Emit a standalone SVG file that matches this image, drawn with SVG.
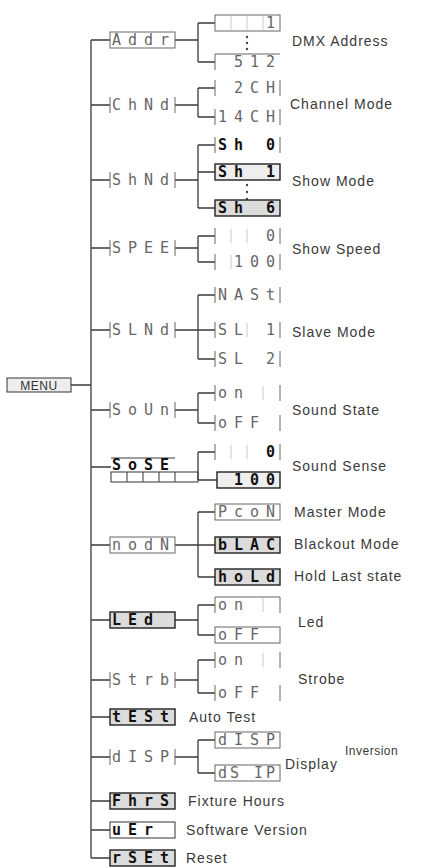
<svg xmlns="http://www.w3.org/2000/svg" width="429" height="868" viewBox="0 0 429 868">
<style>
.bg{fill:#fff}
.ln{fill:none;stroke:#3a3a3a;stroke-width:1.3}
.box{fill:none;stroke:#666;stroke-width:1}
.tick{fill:none;stroke:#666;stroke-width:1;stroke-dasharray:0 65 16 65 16}
.dk{fill:#dcdcdc;stroke:#222;stroke-width:1.4}
.cell{stroke:#bbb;stroke-width:0.8}
.seg{font-family:"DejaVu Sans Mono",monospace;font-size:15px;fill:#666;letter-spacing:7px;white-space:pre}
.segb{font-family:"DejaVu Sans Mono",monospace;font-size:15px;fill:#111;font-weight:bold;letter-spacing:7px;white-space:pre}
.lbl{font-family:"Liberation Sans",Arial,sans-serif;font-size:14px;fill:#3a3a3a;letter-spacing:1px}
.dot{fill:#444}
</style>
<rect class="bg" x="0" y="0" width="429" height="868"/>

<g id="connectors">
<path class="ln" d="M71 385H91M91 40V858"/>
<path class="ln" d="M91 40H110M91 105H110M91 180H110M91 248H110M91 330H110M91 410H110M91 467H111M91 545H110M91 620H110M91 680H110M91 717H110M91 757H110M91 801H110M91 830H110M91 858H110"/>
<path class="ln" d="M175 40H198M198 23V62M198 23H215M198 62H215"/>
<path class="ln" d="M175 105H198M198 88V117M198 88H215M198 117H215"/>
<path class="ln" d="M175 180H198M198 145V208M198 145H215M198 172H215M198 208H215"/>
<path class="ln" d="M175 248H198M198 236V262M198 236H215M198 262H215"/>
<path class="ln" d="M175 330H215M198 295V359M198 295H215M198 359H215"/>
<path class="ln" d="M175 410H198M198 393V423M198 393H215M198 423H215"/>
<path class="ln" d="M198 452V480M198 452H215M198 480H217"/>
<path class="ln" d="M175 545H215M198 512V577M198 512H215M198 577H215"/>
<path class="ln" d="M175 620H198M198 605V635M198 605H215M198 635H215"/>
<path class="ln" d="M175 680H198M198 660V693M198 660H215M198 693H215"/>
<path class="ln" d="M175 757H198M198 740V773M198 740H215M198 773H215"/>
</g>

<g id="menu">
<rect class="box" x="7" y="378" width="64" height="14" style="stroke:#333;fill:#eee"/>
<text x="39" y="389.5" text-anchor="middle" style="font-family:'Liberation Sans',Arial,sans-serif;font-size:12px;fill:#333;letter-spacing:0.5px">MENU</text>
</g>

<g id="addr">
<rect class="box" x="110" y="32" width="65" height="16"/>
<text class="seg" x="112" y="45">Addr</text>
</g>
<g id="addr-1">
<rect class="box" x="215" y="15" width="65" height="16"/>
<path class="cell" d="M231 16V30M247 16V30M263 16V30"/>
<text class="seg" x="218" y="28">   1</text>
</g>
<g id="addr-dots"><circle class="dot" cx="247" cy="37" r="1.2"/><circle class="dot" cx="247" cy="43" r="1.2"/><circle class="dot" cx="247" cy="49" r="1.2"/></g>
<g id="addr-512">
<rect class="tick" x="215" y="54" width="65" height="16" style="stroke-dasharray:65 16 0 65 16"/>
<text class="seg" x="218" y="67"> 512</text>
</g>
<text class="lbl" x="292" y="46">DMX Address</text>

<g id="chnd">
<rect class="tick" x="110" y="97" width="65" height="16"/>
<text class="seg" x="112" y="110">ChNd</text>
</g>
<g id="ch2"><rect class="tick" x="215" y="80" width="65" height="16"/><text class="seg" x="218" y="93"> 2CH</text></g>
<g id="ch14"><rect class="tick" x="215" y="109" width="65" height="16"/><text class="seg" x="218" y="122">14CH</text></g>
<text class="lbl" x="290" y="109">Channel Mode</text>

<g id="shnd"><rect class="tick" x="110" y="172" width="65" height="16"/><text class="seg" x="112" y="185">ShNd</text></g>
<g id="sh0"><rect class="tick" x="215" y="137" width="65" height="16"/><text class="segb" x="218" y="150">Sh 0</text></g>
<g id="sh1"><rect class="dk" x="215" y="164" width="65" height="16" style="fill:#eee"/><text class="segb" x="218" y="177">Sh 1</text></g>
<g id="sh-dots"><circle class="dot" cx="247" cy="185" r="1.2"/><circle class="dot" cx="247" cy="192" r="1.2"/><circle class="dot" cx="247" cy="199" r="1.2"/></g>
<g id="sh6"><rect class="dk" x="215" y="200" width="65" height="16"/><text class="segb" x="218" y="213">Sh 6</text></g>
<text class="lbl" x="292" y="186">Show Mode</text>

<g id="spee"><rect class="tick" x="110" y="240" width="65" height="16"/><text class="seg" x="112" y="253">SPEE</text></g>
<g id="sp0"><rect class="tick" x="215" y="228" width="65" height="16"/><path class="cell" d="M231 229V243M247 229V243"/><text class="seg" x="218" y="241">   0</text></g>
<g id="sp100"><rect class="tick" x="215" y="254" width="65" height="16"/><path class="cell" d="M231 255V269"/><text class="seg" x="218" y="267"> 100</text></g>
<text class="lbl" x="292" y="254">Show Speed</text>

<g id="slnd"><rect class="tick" x="110" y="322" width="65" height="16"/><text class="seg" x="112" y="335">SLNd</text></g>
<g id="nast"><rect class="tick" x="215" y="287" width="65" height="16"/><text class="seg" x="218" y="300">NASt</text></g>
<g id="sl1"><rect class="tick" x="215" y="322" width="65" height="16"/><path class="cell" d="M247 323V337"/><text class="seg" x="218" y="335">SL 1</text></g>
<g id="sl2"><rect class="tick" x="215" y="351" width="65" height="16"/><text class="seg" x="218" y="364">SL 2</text></g>
<text class="lbl" x="292" y="337">Slave Mode</text>

<g id="soun"><rect class="tick" x="110" y="402" width="65" height="16"/><text class="seg" x="112" y="415">SoUn</text></g>
<g id="on1"><rect class="tick" x="215" y="385" width="65" height="16"/><path class="cell" d="M263 386V400"/><text class="seg" x="218" y="398">on  </text></g>
<g id="off1"><rect class="tick" x="215" y="415" width="65" height="16"/><text class="seg" x="218" y="428">oFF </text></g>
<text class="lbl" x="292" y="415">Sound State</text>

<g id="sose">
<path class="ln" d="M111 458H175" style="stroke-width:1"/>
<text class="segb" x="112" y="470">SoSE</text>
<rect class="box" x="111" y="472" width="87" height="10" style="stroke:#333"/>
<path class="box" d="M127 472V482M143 472V482M159 472V482M175 472V482" style="stroke:#333"/>
</g>
<g id="se0"><rect class="tick" x="215" y="444" width="65" height="16"/><path class="cell" d="M231 445V459M247 445V459"/><text class="segb" x="218" y="457">   0</text></g>
<g id="se100"><rect class="dk" x="217" y="472" width="63" height="16" style="fill:#eee"/><text class="segb" x="218" y="485"> 100</text></g>
<text class="lbl" x="292" y="471">Sound Sense</text>

<g id="nodn"><rect class="box" x="110" y="537" width="65" height="16"/><text class="seg" x="112" y="550">nodN</text></g>
<g id="pcon"><rect class="box" x="215" y="504" width="65" height="16"/><text class="seg" x="218" y="517">PcoN</text></g>
<g id="blac"><rect class="dk" x="215" y="537" width="65" height="16"/><text class="segb" x="218" y="550">bLAC</text></g>
<g id="hold"><rect class="dk" x="215" y="569" width="65" height="16"/><text class="segb" x="218" y="582">hoLd</text></g>
<text class="lbl" x="294" y="517">Master Mode</text>
<text class="lbl" x="294" y="549">Blackout Mode</text>
<text class="lbl" x="294" y="581">Hold Last state</text>

<g id="led"><rect class="dk" x="110" y="612" width="65" height="16"/><text class="segb" x="112" y="625">LEd </text></g>
<g id="on2"><rect class="tick" x="215" y="597" width="65" height="16" style="stroke-dasharray:81 65 16"/><path class="cell" d="M263 598V612"/><text class="seg" x="218" y="610">on  </text></g>
<g id="off2"><rect class="box" x="215" y="627" width="65" height="16"/><text class="seg" x="218" y="640">oFF </text></g>
<text class="lbl" x="298" y="627">Led</text>

<g id="strb"><rect class="tick" x="110" y="672" width="65" height="16"/><text class="seg" x="112" y="685">Strb</text></g>
<g id="on3"><rect class="tick" x="215" y="652" width="65" height="16"/><path class="cell" d="M263 653V667"/><text class="seg" x="218" y="665">on  </text></g>
<g id="off3"><rect class="tick" x="215" y="685" width="65" height="16"/><text class="seg" x="218" y="698">oFF </text></g>
<text class="lbl" x="298" y="684">Strobe</text>

<g id="test"><rect class="dk" x="110" y="709" width="65" height="16"/><text class="segb" x="112" y="722">tESt</text></g>
<text class="lbl" x="189" y="722">Auto Test</text>

<g id="disp"><rect class="tick" x="110" y="749" width="65" height="16"/><text class="seg" x="112" y="762">dISP</text></g>
<g id="disp1"><rect class="box" x="215" y="732" width="65" height="16"/><text class="seg" x="218" y="745">dISP</text></g>
<g id="disp2"><rect class="box" x="215" y="765" width="65" height="16"/><text class="seg" x="218" y="778" style="letter-spacing:3px">dS IP</text></g>
<text class="lbl" x="285" y="769">Display</text>
<text class="lbl" x="345" y="755" style="font-size:12px;letter-spacing:0.5px">Inversion</text>

<g id="fhrs"><rect class="dk" x="110" y="793" width="65" height="16"/><text class="segb" x="112" y="806">FhrS</text></g>
<text class="lbl" x="188" y="806">Fixture Hours</text>

<g id="uer"><rect class="box" x="110" y="822" width="65" height="16" style="stroke:#333"/><text class="segb" x="112" y="835">uEr </text></g>
<text class="lbl" x="186" y="835">Software Version</text>

<g id="rset"><rect class="dk" x="110" y="850" width="65" height="16"/><text class="segb" x="112" y="863">rSEt</text></g>
<text class="lbl" x="186" y="863">Reset</text>
</svg>
